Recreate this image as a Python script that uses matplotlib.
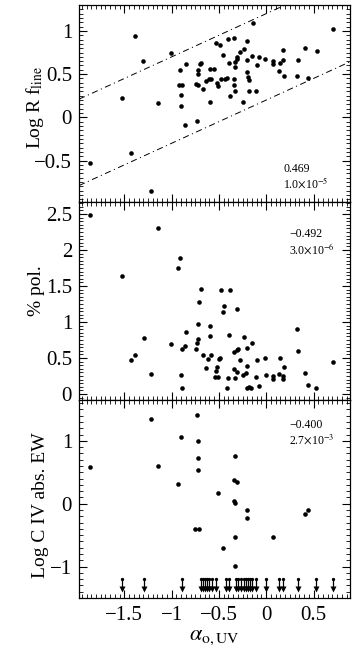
import numpy as np
import matplotlib
matplotlib.use('Agg')
import matplotlib.pyplot as plt
from matplotlib.ticker import MultipleLocator, FuncFormatter

plt.rcParams['font.family'] = ['Liberation Serif', 'DejaVu Serif']
plt.rcParams['mathtext.fontset'] = 'stix'
plt.rcParams['lines.scale_dashes'] = False

# top panel: Log R f_line vs alpha_o,UV
top_x = [-1.861, -1.522, -1.427, -1.388, -1.299, -1.215, -1.144, -1.010, -0.925, -0.911,
         -0.897, -0.897, -0.890, -0.855, -0.847, -0.745, -0.734, -0.720, -0.720, -0.717,
         -0.703, -0.685, -0.667, -0.636, -0.600, -0.597, -0.590, -0.579, -0.551, -0.533,
         -0.519, -0.505, -0.484, -0.477, -0.459, -0.438, -0.417, -0.406, -0.395, -0.378,
         -0.346, -0.343, -0.339, -0.335, -0.335, -0.325, -0.311, -0.304, -0.279, -0.247,
         -0.240, -0.208, -0.208, -0.205, -0.198, -0.184, -0.187, -0.155, -0.141, -0.109,
         -0.102, -0.074, -0.014, 0.071, 0.074, 0.138, 0.141, 0.173, 0.177, 0.187,
         0.325, 0.339, 0.410, 0.441, 0.533, 0.710]
top_y = [-0.532, 0.220, -0.416, 0.944, 0.651, -0.848, 0.166, 0.748, 0.378, 0.547,
         0.258, 0.135, 0.378, -0.085, 0.617, 0.389, -0.039, 0.370, 0.501, 0.547,
         0.613, 0.624, 0.328, 0.420, 0.443, 0.563, 0.173, 0.439, 0.563, 0.863,
         0.401, 0.366, 0.840, 0.443, 0.725, 0.447, 0.455, 0.902, 0.632, 0.247,
         0.917, 0.447, 0.374, 0.308, 0.640, 0.578, 0.671, 0.694, 0.751, 0.181,
         0.786, 0.886, 0.528, 0.659, 0.462, 0.432, 0.301, 0.713, 1.094, 0.308,
         0.601, 0.697, 0.671, 0.655, 0.613, 0.536, 0.628, 0.659, 0.775, 0.482,
         0.474, 0.667, 0.802, 0.459, 0.767, 1.021]

# middle panel: % polarization
mid_x = [-1.861, -1.522, -1.427, -1.388, -1.296, -1.215, -1.144, -1.006, -0.929, -0.911,
         -0.900, -0.893, -0.890, -0.855, -0.851, -0.745, -0.727, -0.720, -0.717, -0.713,
         -0.685, -0.667, -0.639, -0.611, -0.593, -0.590, -0.586, -0.547, -0.533, -0.519,
         -0.512, -0.498, -0.487, -0.480, -0.459, -0.448, -0.417, -0.406, -0.395, -0.378,
         -0.339, -0.339, -0.328, -0.314, -0.307, -0.307, -0.300, -0.279, -0.244, -0.240,
         -0.212, -0.205, -0.205, -0.201, -0.184, -0.166, -0.148, -0.109, -0.099, -0.074,
         -0.018, -0.004, 0.071, 0.074, 0.138, 0.145, 0.177, 0.177, 0.187, 0.325,
         0.339, 0.410, 0.438, 0.530, 0.710]
mid_y = [2.486, 1.634, 0.477, 0.537, 0.778, 0.278, 2.306, 0.690, 1.750, 1.884,
         0.259, 0.630, 0.079, 0.662, 0.856, 0.620, 0.713, 0.759, 0.968, 1.278,
         1.458, 0.542, 0.366, 0.486, 0.810, 0.949, 0.537, 0.236, 0.315, 0.375,
         0.231, 0.491, 0.500, 1.449, 1.144, 1.218, 0.088, 0.218, 0.819, 1.449,
         0.588, 0.343, 0.227, 0.616, 1.176, 0.310, 0.630, 0.468, 0.259, 0.792,
         0.287, 0.634, 0.394, 0.079, 0.102, 0.079, 0.704, 0.236, 0.468, 0.111,
         0.505, 0.264, 0.255, 0.204, 0.282, 0.495, 0.208, 0.255, 0.375, 0.903,
         0.597, 0.296, 0.125, 0.088, 0.449]

# bottom panel: Log C IV absorption EW (detections)
bot_x = [-1.861, -1.215, -1.144, -0.929, -0.900, -0.749, -0.734, -0.724, -0.717, -0.717,
         -0.706, -0.512, -0.459, -0.343, -0.335, -0.335, -0.328, -0.343, -0.328, -0.314,
         -0.208, -0.205, 0.071, 0.406, 0.438]
bot_y = [0.582, 1.344, 0.593, 0.317, 1.069, -0.397, 1.418, 0.720, 1.005, 0.534,
         -0.397, 0.175, -0.698, 0.370, -0.995, -0.524, 0.762, 0.037, 0.011, 0.339,
         -0.101, -0.228, -0.524, -0.159, -0.095]

# bottom panel: upper limits
ul_x = [-1.522, -1.296, -0.890, -0.692, -0.671, -0.650, -0.626, -0.602, -0.572, -0.530,
        -0.424, -0.395, -0.315, -0.294, -0.262, -0.237, -0.216, -0.195, -0.174, -0.148,
        -0.109, -0.004, 0.134, 0.175, 0.339, 0.530, 0.710]
ul_y = [-1.2] * len(ul_x)

# correlation coefficient / probability
stats = [('0.469', r'1.0$\times$10$^{-5}$'),
         ('\u22120.492', r'3.0$\times$10$^{-6}$'),
         ('\u22120.400', r'2.7$\times$10$^{-3}$')]

# envelope lines in top panel
slope = 0.5
intercepts = [1.2, 0.2]

fig = plt.figure(figsize=(3.59, 6.54), dpi=100)
left, width = 79 / 359, 271 / 359
ax1 = fig.add_axes([left, 1 - 202 / 654, width, 197 / 654])
ax2 = fig.add_axes([left, 1 - 400 / 654, width, 198 / 654], sharex=ax1)
ax3 = fig.add_axes([left, 1 - 598 / 654, width, 198 / 654], sharex=ax1)

fmt = FuncFormatter(lambda v, p: f'{v:g}'.replace('-', '\u2212'))

ms = 3.3
ax1.plot(top_x, top_y, 'o', color='black', ms=ms, mec='none')
xx = np.array([-1.98, 0.89])
for b in intercepts:
    ax1.plot(xx, slope * xx + b, color='black', lw=0.7, dashes=(4.5, 2.5, 0.8, 2.5))
ax1.set_ylim(-0.98, 1.3)
ax1.set_ylabel(r'Log R f$_{\rm line}$', fontsize=14)
ax1.yaxis.set_label_coords(-0.12, 0.48)

ax2.plot(mid_x, mid_y, 'o', color='black', ms=ms, mec='none')
ax2.set_ylim(-0.083, 2.667)
ax2.set_ylabel('% pol.', fontsize=14)
ax2.yaxis.set_label_coords(-0.125, 0.55)

ax3.plot(bot_x, bot_y, 'o', color='black', ms=ms, mec='none')
ax3.vlines(ul_x, np.array(ul_y) - 0.17, ul_y, color='black', lw=0.9)
ax3.plot(ul_x, np.array(ul_y) - 0.16, 'v', color='black', ms=3.8, mec='none')
ax3.plot(ul_x, ul_y, 'o', color='black', ms=2.4, mec='none')
ax3.set_ylim(-1.5, 1.65)
ax3.set_ylabel('Log C IV abs. EW', fontsize=14)
ax3.yaxis.set_label_coords(-0.11, 0.47)
ax3.set_xlabel(r'$\alpha_{\rm o,UV}$', fontsize=16, labelpad=2)

ax1.set_xlim(-1.98, 0.886)
minors = [0.05, 0.05, 0.1]
majors = [0.5, 0.5, 1]
for ax, mj, mn in zip([ax1, ax2, ax3], majors, minors):
    ax.xaxis.set_major_locator(MultipleLocator(0.5))
    ax.xaxis.set_minor_locator(MultipleLocator(0.05))
    ax.yaxis.set_major_locator(MultipleLocator(mj))
    ax.yaxis.set_minor_locator(MultipleLocator(mn))
    ax.yaxis.set_major_formatter(fmt)
    ax.xaxis.set_major_formatter(fmt)
    ax.tick_params(which='both', direction='in', top=True, right=True, labelsize=15)
    ax.tick_params(which='major', length=6, width=0.8)
    ax.tick_params(which='minor', length=3, width=0.6)
    ax.tick_params(axis='y', pad=5)
    ax.tick_params(axis='x', pad=6)
    for s in ax.spines.values():
        s.set_linewidth(0.9)
ax1.tick_params(labelbottom=False)
ax2.tick_params(labelbottom=False)

txt_pos = [(0.753, 0.165, 0.093), (0.775, 0.838, 0.76), (0.775, 0.872, 0.8)]
for ax, (r, p), (tx, ty1, ty2) in zip([ax1, ax2, ax3], stats, txt_pos):
    ax.text(tx, ty1, r, transform=ax.transAxes, fontsize=8.5, va='center', ha='left')
    ax.text(tx, ty2, p, transform=ax.transAxes, fontsize=8.5, va='center', ha='left')

fig.savefig('out.png', dpi=100)
